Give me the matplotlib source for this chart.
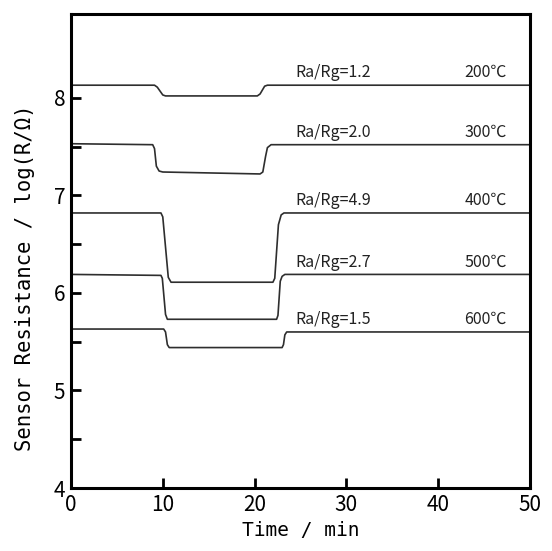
import matplotlib
matplotlib.use("Agg")
import matplotlib.pyplot as plt
from matplotlib.ticker import MultipleLocator, FixedLocator

# (time / min, log R) corner points
t_200 = [0, 9.1, 9.4, 10.0, 10.3, 20.3, 20.6, 21.1, 21.4, 50]
r_200 = [8.13, 8.13, 8.11, 8.03, 8.02, 8.02, 8.04, 8.12, 8.13, 8.13]

t_300 = [0, 8.9, 9.1, 9.3, 9.6, 10.0, 20.6, 20.9, 21.2, 21.4, 21.8, 50]
r_300 = [7.53, 7.52, 7.48, 7.30, 7.25, 7.24, 7.22, 7.24, 7.40, 7.49, 7.52, 7.52]

t_400 = [0, 9.8, 10.0, 10.6, 10.9, 22.0, 22.2, 22.6, 22.9, 23.2, 50]
r_400 = [6.82, 6.82, 6.78, 6.16, 6.11, 6.11, 6.15, 6.70, 6.80, 6.82, 6.82]

t_500 = [0, 9.8, 9.95, 10.3, 10.5, 22.4, 22.55, 22.8, 23.0, 23.3, 50]
r_500 = [6.19, 6.18, 6.15, 5.78, 5.73, 5.73, 5.77, 6.12, 6.17, 6.19, 6.19]

t_600 = [0, 10.1, 10.3, 10.5, 10.7, 23.0, 23.15, 23.3, 23.5, 50]
r_600 = [5.63, 5.63, 5.60, 5.47, 5.44, 5.44, 5.47, 5.57, 5.60, 5.60]

curves = [(t_200, r_200), (t_300, r_300), (t_400, r_400), (t_500, r_500), (t_600, r_600)]
ratio_labels = ["Ra/Rg=1.2", "Ra/Rg=2.0", "Ra/Rg=4.9", "Ra/Rg=2.7", "Ra/Rg=1.5"]
temp_labels = ["200℃", "300℃", "400℃", "500℃", "600℃"]

plt.rcParams['font.family'] = ['Liberation Sans Narrow', 'Noto Sans CJK JP', 'DejaVu Sans']

fig = plt.figure(figsize=(5.52, 5.51), dpi=100)
ax = fig.add_axes([0.1286, 0.1143, 0.8314, 0.8603])

for (t, r), rl, tl in zip(curves, ratio_labels, temp_labels):
    ax.plot(t, r, color='#2e2e2e', lw=1.2)
    ax.text(24.4, r[-1] + 0.04, rl, fontsize=11.5, family=['Noto Sans CJK JP', 'DejaVu Sans'],
            color='#222222', ha='left', va='bottom')
    ax.text(47.5, r[-1] + 0.04, tl, fontsize=11.5, family=['Noto Sans CJK JP', 'DejaVu Sans'],
            color='#222222', ha='right', va='bottom')

ax.set_xlim(0, 50)
ax.set_ylim(4, 8.86)
ax.xaxis.set_major_locator(MultipleLocator(10))
ax.yaxis.set_major_locator(FixedLocator([4, 5, 6, 7, 8]))
ax.yaxis.set_minor_locator(FixedLocator([4.5, 5.5, 6.5, 7.5]))
ax.tick_params(which='both', direction='in', length=7, width=2, labelsize=15, pad=4)
ax.tick_params(top=False, right=False)
for s in ax.spines.values():
    s.set_linewidth(2.2)

ax.set_xlabel('Time / min', fontsize=14, family='DejaVu Sans Mono', labelpad=4)
ax.set_ylabel('Sensor Resistance / log(R/Ω)', fontsize=14.8, family='DejaVu Sans Mono')
ax.yaxis.set_label_coords(-0.078, 0.443)

plt.savefig('out.png', dpi=100)
